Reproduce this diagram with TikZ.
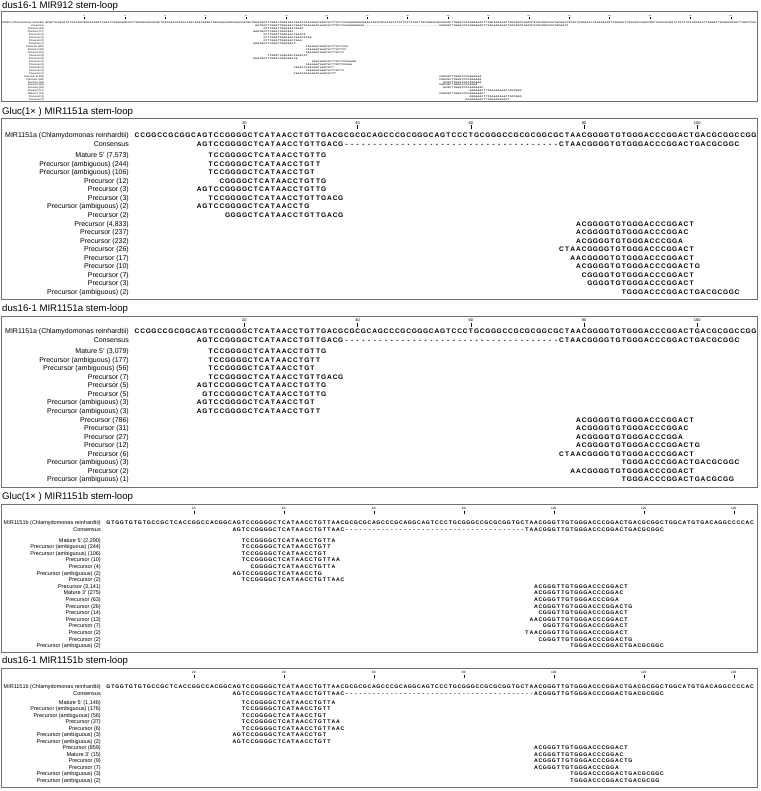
\documentclass[tikz,border=0pt]{standalone}
\usepackage{fontspec}
\setmainfont{Liberation Sans}
\usepackage{xstring}
\usetikzlibrary{positioning}

\definecolor{boxgray}{RGB}{112,112,112}

% one fixed-width cell per nucleotide
\newlength\ntw
\def\seqloop#1{\ifx#1\relax\else\hbox to\ntw{\hss#1\hss}\expandafter\seqloop\fi}
\newcommand\seqs[2]{\setlength\ntw{#1}\edef\seqtmp{#2}\expandafter\seqloop\seqtmp\relax}
\def\dashten{----------}

% reference sequences
\def\mirref{%
GCGCTATGCGTCTGTCGCCGGGACAGCTCAACCTGAGCGGCCATTGCAGC%
AGCGCGCTCACGAGTGTGCGCAGTGCATGGGCTAGCAAACAGCCGACCAC%
GCTGAGTGCCTTGGGTTGGGAATCAAGTCCAAAAATAAGTATTTGTTCCA%
AAGGAAAGAAATGGTCGCGACGCCTGTTCCTCCATTGCCGGCACGCAGCG%
CTTGAGTCCCAGGAAACTTTGGAGCAAATTGCCGGCTGACGTCCGTGGCC%
CATGCAGTCCCGCTCGGGCATCACAGGCGCTCGGAATTGCCACCTCGGTG%
GCTCACCGCGGTCTGTCTCGCCGGCCTTGGGATTGCGGCGCGCTTAGCTC%
AA}
\def\mirAref{CCGGCCGCGG CAGTCCGGGG CTCATAACCT GTTGACGCGC GCAGCCCGCG GGCAGTCCCT
  GCGGGCCGCG CGGCGCTAAC GGGGTGTGGG ACCCGGACTG ACGCGGCCGG}
\def\mirAcons{AGTCCGGGGCTCATAACCTGTTGACG\dashten\dashten\dashten-------- CTAACGGGGTGTGGGACCCGGACTGACGCGGC}
\def\mirBref{GTGGTGTGTG CCGCTCACCG GCCACGGCAG TCCGGGGCTC ATAACCTGTT AACGCGCGCA GCCCGCAGGC
  AGTCCCTGCG GGCCGCGCGG TGCTAACGGG TTGTGGGACC CGGACTGACG CGGCTGGCAT GTGACAGGCC CCAC}
\def\mirBcons{AGTCCGGGGCTCATAACCTGTTAAC\dashten\dashten\dashten\dashten TAACGGGTTGTGGGACCCGGACTGACGCGGC}

\tikzset{
  paneltitle/.style={anchor=west, inner sep=0pt, font=\fontsize{9.6}{10}\selectfont},
  panelbox/.style={draw=boxgray, line width=0.9pt},
  rowlabel/.style={anchor=mid east, inner sep=0pt, font=\fontsize{#1}{#1}\selectfont},
  rowseq/.style={anchor=mid west, inner sep=0pt, font=\bfseries\fontsize{#1}{#1}\selectfont},
  ticklabel/.style={anchor=south, inner sep=0pt, font=\fontsize{#1}{#1}\selectfont},
  tickmark/.style={line width=#1},
}

\begin{document}
\begin{tikzpicture}[x=1pt, y=-1pt]
\useasboundingbox (0,0) rectangle (760,791);

% dus16-1 MIR912
\node[paneltitle] (title1) at (2,5.6) {dus16-1 MIR912 stem-loop};
\draw[panelbox] (1,11.5) rectangle (757,101);
\foreach \t in {20,40,...,340} {
  \node[ticklabel=1.6] (tick1-\t) at ({45+(\t-0.5)*2.02},16.4) {\t};
  \draw[tickmark=0.3pt] (tick1-\t.south) ++(0,0.3) -- ++(0,2);
}
\node[rowlabel=2.5] (ref1) at (44,20.8) {MIR912 (Chlamydomonas reinhardtii)};
\node[rowseq=2.35] (refseq1) at (45,20.8) {\seqs{2.02pt}{\mirref}};
\StrMid{\mirref}{105}{158}[\consL]\StrMid{\mirref}{196}{259}[\consR]
\node[rowlabel=2.5] (cons1) at (44,23.8) {Consensus};
\node[rowseq=2.35] (consseq1) at ({45+104*2.02},23.8)
  {\seqs{2.02pt}{\consL\dashten\dashten\dashten-------\consR}};
\foreach \lbl/\rfrom/\rto [count=\i from 0] in {
  {Precursor (59)}/109/128, {Precursor (17)}/104/123, {Precursor (4)}/109/129,
  {Precursor (2)}/109/132, {Precursor (2)}/109/127, {Precursor (2)}/104/124,
  {Precursor (463)}/130/150, {Precursor (26)}/130/149, {Precursor (10)}/130/148,
  {Precursor (8)}/111/130, {Precursor (6)}/104/125, {Precursor (3)}/133/154,
  {Precursor (3)}/130/152, {Precursor (2)}/124/143, {Precursor (2)}/130/148,
  {Precursor (2)}/124/144, {Precursor (5,208)}/196/216, {Precursor (166)}/196/216,
  {Precursor (36)}/198/216, {Precursor (26)}/196/214, {Precursor (18)}/198/217,
  {Precursor (17)}/211/236, {Mature 3' (10)}/196/218, {Precursor (4)}/211/236,
  {Precursor (3)}/209/230} {
  \StrMid{\mirref}{\rfrom}{\rto}[\readtxt]
  \node[rowlabel=2.5] (lab1-\i) at (44,27.3+\i*2.95) {\lbl};
  \node[rowseq=2.35] (seq1-\i) at ({45+(\rfrom-1)*2.02},27.3+\i*2.95) {\seqs{2.02pt}{\readtxt}};
}

% Gluc(1x) MIR1151a
\node[paneltitle] (title2) at (2,112) {Gluc(1× ) MIR1151a stem-loop};
\draw[panelbox] (1,118) rectangle (757,299.5);
\foreach \t in {20,40,...,100} {
  \node[ticklabel=4] (tick2-\t) at ({134+(\t-0.5)*5.66},124.5) {\t};
  \draw[tickmark=0.5pt] (tick2-\t.south) ++(0,0.8) -- ++(0,4);
}
\node[rowlabel=7] (ref2) at (129,135) {MIR1151a (Chlamydomonas reinhardtii)};
\node[rowseq=6.6] (refseq2) at (134,135) {\seqs{5.66pt}{\mirAref}};
\node[rowlabel=7] (cons2) at (129,144) {Consensus};
\node[rowseq=6.6] (consseq2) at ({134+11*5.66},144) {\seqs{5.66pt}{\mirAcons}};
\foreach \lbl/\rfrom/\nts [count=\i from 0] in {
  {Mature 5' (7,573)}/14/TCCGGGGCTCATAACCTGTTG,
  {Precursor (ambiguous) (244)}/14/TCCGGGGCTCATAACCTGTT,
  {Precursor (ambiguous) (106)}/14/TCCGGGGCTCATAACCTGT,
  {Precursor (12)}/16/CGGGGCTCATAACCTGTTG,
  {Precursor (3)}/12/AGTCCGGGGCTCATAACCTGTTG,
  {Precursor (3)}/14/TCCGGGGCTCATAACCTGTTGACG,
  {Precursor (ambiguous) (2)}/12/AGTCCGGGGCTCATAACCTG,
  {Precursor (2)}/17/GGGGCTCATAACCTGTTGACG,
  {Precursor (4,833)}/79/ACGGGGTGTGGGACCCGGACT,
  {Precursor (237)}/79/ACGGGGTGTGGGACCCGGAC,
  {Precursor (232)}/79/ACGGGGTGTGGGACCCGGA,
  {Precursor (26)}/76/CTAACGGGGTGTGGGACCCGGACT,
  {Precursor (17)}/78/AACGGGGTGTGGGACCCGGACT,
  {Precursor (10)}/79/ACGGGGTGTGGGACCCGGACTG,
  {Precursor (7)}/80/CGGGGTGTGGGACCCGGACT,
  {Precursor (3)}/81/GGGGTGTGGGACCCGGACT,
  {Precursor (ambiguous) (2)}/87/TGGGACCCGGACTGACGCGGC} {
  \node[rowlabel=7] (lab2-\i) at (129,155+\i*8.55) {\lbl};
  \node[rowseq=6.6] (seq2-\i) at ({134+(\rfrom-1)*5.66},155+\i*8.55) {\seqs{5.66pt}{\nts}};
}

% dus16-1 MIR1151a
\node[paneltitle] (title3) at (2,309) {dus16-1 MIR1151a stem-loop};
\draw[panelbox] (1,316) rectangle (757,487);
\foreach \t in {20,40,...,100} {
  \node[ticklabel=4] (tick3-\t) at ({134+(\t-0.5)*5.66},322) {\t};
  \draw[tickmark=0.5pt] (tick3-\t.south) ++(0,0.8) -- ++(0,4);
}
\node[rowlabel=7] (ref3) at (129,331) {MIR1151a (Chlamydomonas reinhardtii)};
\node[rowseq=6.6] (refseq3) at (134,331) {\seqs{5.66pt}{\mirAref}};
\node[rowlabel=7] (cons3) at (129,340) {Consensus};
\node[rowseq=6.6] (consseq3) at ({134+11*5.66},340) {\seqs{5.66pt}{\mirAcons}};
\foreach \lbl/\rfrom/\nts [count=\i from 0] in {
  {Mature 5' (3,079)}/14/TCCGGGGCTCATAACCTGTTG,
  {Precursor (ambiguous) (177)}/14/TCCGGGGCTCATAACCTGTT,
  {Precursor (ambiguous) (56)}/14/TCCGGGGCTCATAACCTGT,
  {Precursor (7)}/14/TCCGGGGCTCATAACCTGTTGACG,
  {Precursor (5)}/12/AGTCCGGGGCTCATAACCTGTTG,
  {Precursor (5)}/13/GTCCGGGGCTCATAACCTGTTG,
  {Precursor (ambiguous) (3)}/12/AGTCCGGGGCTCATAACCTGT,
  {Precursor (ambiguous) (3)}/12/AGTCCGGGGCTCATAACCTGTT,
  {Precursor (786)}/79/ACGGGGTGTGGGACCCGGACT,
  {Precursor (31)}/79/ACGGGGTGTGGGACCCGGAC,
  {Precursor (27)}/79/ACGGGGTGTGGGACCCGGA,
  {Precursor (12)}/79/ACGGGGTGTGGGACCCGGACTG,
  {Precursor (6)}/76/CTAACGGGGTGTGGGACCCGGACT,
  {Precursor (ambiguous) (3)}/87/TGGGACCCGGACTGACGCGGC,
  {Precursor (2)}/78/AACGGGGTGTGGGACCCGGACT,
  {Precursor (ambiguous) (1)}/87/TGGGACCCGGACTGACGCGG} {
  \node[rowlabel=7] (lab3-\i) at (129,351+\i*8.55) {\lbl};
  \node[rowseq=6.6] (seq3-\i) at ({134+(\rfrom-1)*5.66},351+\i*8.55) {\seqs{5.66pt}{\nts}};
}

% Gluc(1x) MIR1151b
\node[paneltitle] (title4) at (2,497.5) {Gluc(1× ) MIR1151b stem-loop};
\draw[panelbox] (1,504) rectangle (757,652);
\foreach \t in {20,40,...,140} {
  \node[ticklabel=3.2] (tick4-\t) at ({106+(\t-0.5)*4.5},510) {\t};
  \draw[tickmark=0.45pt] (tick4-\t.south) ++(0,0.6) -- ++(0,3.3);
}
\node[rowlabel=5.5] (ref4) at (101,522) {MIR1151b (Chlamydomonas reinhardtii)};
\node[rowseq=5.2] (refseq4) at (106,522) {\seqs{4.5pt}{\mirBref}};
\node[rowlabel=5.5] (cons4) at (101,529) {Consensus};
\node[rowseq=5.2] (consseq4) at ({106+28*4.5},529) {\seqs{4.5pt}{\mirBcons}};
\foreach \lbl/\rfrom/\nts [count=\i from 0] in {
  {Mature 5' (2,290)}/31/TCCGGGGCTCATAACCTGTTA,
  {Precursor (ambiguous) (244)}/31/TCCGGGGCTCATAACCTGTT,
  {Precursor (ambiguous) (106)}/31/TCCGGGGCTCATAACCTGT,
  {Precursor (10)}/31/TCCGGGGCTCATAACCTGTTAA,
  {Precursor (4)}/33/CGGGGCTCATAACCTGTTA,
  {Precursor (ambiguous) (2)}/29/AGTCCGGGGCTCATAACCTG,
  {Precursor (2)}/31/TCCGGGGCTCATAACCTGTTAAC,
  {Precursor (3,141)}/96/ACGGGTTGTGGGACCCGGACT,
  {Mature 3' (275)}/96/ACGGGTTGTGGGACCCGGAC,
  {Precursor (63)}/96/ACGGGTTGTGGGACCCGGA,
  {Precursor (26)}/96/ACGGGTTGTGGGACCCGGACTG,
  {Precursor (14)}/97/CGGGTTGTGGGACCCGGACT,
  {Precursor (13)}/95/AACGGGTTGTGGGACCCGGACT,
  {Precursor (7)}/98/GGGTTGTGGGACCCGGACT,
  {Precursor (2)}/94/TAACGGGTTGTGGGACCCGGACT,
  {Precursor (2)}/97/CGGGTTGTGGGACCCGGACTG,
  {Precursor (ambiguous) (2)}/104/TGGGACCCGGACTGACGCGGC} {
  \node[rowlabel=5.5] (lab4-\i) at (101,539.5+\i*6.6) {\lbl};
  \node[rowseq=5.2] (seq4-\i) at ({106+(\rfrom-1)*4.5},539.5+\i*6.6) {\seqs{4.5pt}{\nts}};
}

% dus16-1 MIR1151b
\node[paneltitle] (title5) at (2,661) {dus16-1 MIR1151b stem-loop};
\draw[panelbox] (1,668) rectangle (757,787);
\foreach \t in {20,40,...,140} {
  \node[ticklabel=3.2] (tick5-\t) at ({106+(\t-0.5)*4.5},674) {\t};
  \draw[tickmark=0.45pt] (tick5-\t.south) ++(0,0.6) -- ++(0,3.3);
}
\node[rowlabel=5.5] (ref5) at (101,686) {MIR1151b (Chlamydomonas reinhardtii)};
\node[rowseq=5.2] (refseq5) at (106,686) {\seqs{4.5pt}{\mirBref}};
\node[rowlabel=5.5] (cons5) at (101,693) {Consensus};
\node[rowseq=5.2] (consseq5) at ({106+28*4.5},693)
  {\seqs{4.5pt}{AGTCCGGGGCTCATAACCTGTTAAC\dashten\dashten\dashten\dashten-- ACGGGTTGTGGGACCCGGACTGACGCGGC}};
\foreach \lbl/\rfrom/\nts [count=\i from 0] in {
  {Mature 5' (1,146)}/31/TCCGGGGCTCATAACCTGTTA,
  {Precursor (ambiguous) (176)}/31/TCCGGGGCTCATAACCTGTT,
  {Precursor (ambiguous) (56)}/31/TCCGGGGCTCATAACCTGT,
  {Precursor (37)}/31/TCCGGGGCTCATAACCTGTTAA,
  {Precursor (6)}/31/TCCGGGGCTCATAACCTGTTAAC,
  {Precursor (ambiguous) (3)}/29/AGTCCGGGGCTCATAACCTGT,
  {Precursor (ambiguous) (2)}/29/AGTCCGGGGCTCATAACCTGTT,
  {Precursor (859)}/96/ACGGGTTGTGGGACCCGGACT,
  {Mature 3' (15)}/96/ACGGGTTGTGGGACCCGGAC,
  {Precursor (9)}/96/ACGGGTTGTGGGACCCGGACTG,
  {Precursor (7)}/96/ACGGGTTGTGGGACCCGGA,
  {Precursor (ambiguous) (3)}/104/TGGGACCCGGACTGACGCGGC,
  {Precursor (ambiguous) (2)}/104/TGGGACCCGGACTGACGCGG} {
  \node[rowlabel=5.5] (lab5-\i) at (101,701.5+\i*6.5) {\lbl};
  \node[rowseq=5.2] (seq5-\i) at ({106+(\rfrom-1)*4.5},701.5+\i*6.5) {\seqs{4.5pt}{\nts}};
}
\end{tikzpicture}
\end{document}
